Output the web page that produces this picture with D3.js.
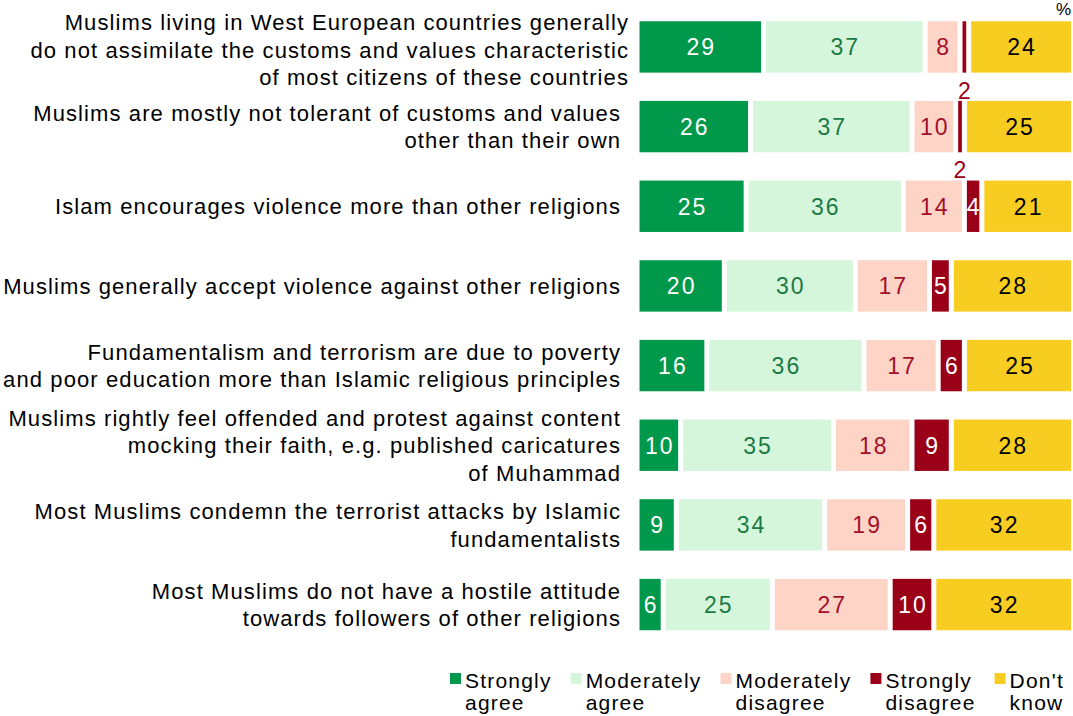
<!DOCTYPE html>
<html lang="en">
<head>
  <meta charset="UTF-8">
  <title>Attitudes towards Muslims</title>
  <script src="https://d3js.org/d3.v7.min.js"></script>
  <style type="text/css">
    body { margin: 0; background: #fff; }
    text { font-family: "Liberation Sans", Arial, sans-serif; }
  </style>
</head>
<body>
<script type="text/javascript">
  var statements = [
    ["Muslims living in West European countries generally", "do not assimilate the customs and values characteristic", "of most citizens of these countries"],
    ["Muslims are mostly not tolerant of customs and values", "other than their own"],
    ["Islam encourages violence more than other religions"],
    ["Muslims generally accept violence against other religions"],
    ["Fundamentalism and terrorism are due to poverty", "and poor education more than Islamic religious principles"],
    ["Muslims rightly feel offended and protest against content", "mocking their faith, e.g. published caricatures", "of Muhammad"],
    ["Most Muslims condemn the terrorist attacks by Islamic", "fundamentalists"],
    ["Most Muslims do not have a hostile attitude", "towards followers of other religions"]
  ];
  var answers = ["Strongly agree", "Moderately agree", "Moderately disagree", "Strongly disagree", "Don't know"];
  var legendLines = [["Strongly", "agree"], ["Moderately", "agree"], ["Moderately", "disagree"], ["Strongly", "disagree"], ["Don't", "know"]];
  var stronglyAgree     = [29, 26, 25, 20, 16, 10,  9,  6];
  var moderatelyAgree   = [37, 37, 36, 30, 36, 35, 34, 25];
  var moderatelyDisagree= [ 8, 10, 14, 17, 17, 18, 19, 27];
  var stronglyDisagree  = [ 2,  2,  4,  5,  6,  9,  6, 10];
  var dontKnow          = [24, 25, 21, 28, 25, 28, 32, 32];

  var fills = ["#00984A", "#D5F6DB", "#FED4C6", "#9A0018", "#F8CD21"];
  var textColors = ["#ffffff", "#1B7A45", "#A3102A", "#ffffff", "#000000"];

  var width = 1073, height = 716;
  var svg = d3.select("body").append("svg")
    .attr("width", width)
    .attr("height", height);

  var series = [stronglyAgree, moderatelyAgree, moderatelyDisagree, stronglyDisagree, dontKnow];
  var rows = statements.map(function(s, i) {
    var row = { label: s, segs: [] };
    var cum = 0;
    series.forEach(function(arr, k) {
      row.segs.push({ k: k, v: arr[i], x0: cum, x1: cum + arr[i] });
      cum += arr[i];
    });
    return row;
  });

  var x = d3.scaleLinear().domain([0, 100]).range([637, 1073.5]);
  var y = d3.scaleBand().domain(d3.range(statements.length)).range([8.5, 643]).paddingInner(0.355).paddingOuter(0.16);

  var gap = 2.5;
  var valSpacing = 2;

  var rowG = svg.selectAll("g.row")
    .data(rows)
    .enter().append("g")
    .attr("class", "row")
    .attr("transform", function(d, i) { return "translate(0," + y(i) + ")"; });

  rowG.selectAll("rect")
    .data(function(d) { return d.segs; })
    .enter().append("rect")
    .attr("x", function(d) { return x(d.x0) + gap; })
    .attr("width", function(d) { return Math.max(0, x(d.x1) - x(d.x0) - 2 * gap); })
    .attr("y", 0)
    .attr("height", y.bandwidth())
    .attr("fill", function(d) { return fills[d.k]; });

  rowG.selectAll("text.val")
    .data(function(d) { return d.segs; })
    .enter().append("text")
    .attr("class", "val")
    .attr("x", function(d) { return (x(d.x0) + x(d.x1)) / 2 + valSpacing / 2; })
    .attr("y", function(d) { return d.v <= 2 ? y.bandwidth() + 26 : y.bandwidth() / 2 + 8.5; })
    .attr("text-anchor", "middle")
    .style("font-size", "23px")
    .style("letter-spacing", valSpacing + "px")
    .attr("fill", function(d) { return d.v <= 2 ? "#9A0018" : textColors[d.k]; })
    .text(function(d) { return d.v; });

  // statement labels
  rowG.each(function(d, i) {
    var n = d.label.length;
    var lh = 27.5;
    var t = d3.select(this).append("text")
      .attr("text-anchor", "end")
      .style("font-size", "22px")
      .style("letter-spacing", "1.1px")
      .attr("fill", "#000");
    d.label.forEach(function(line, j) {
      t.append("tspan")
        .attr("x", i === 0 ? 629 : 621)
        .attr("y", y.bandwidth() / 2 + 8 + (n === 3 && i === 0 ? 3 : 0) + (j - (n - 1) / 2) * lh)
        .text(line);
    });
  });

  svg.append("text")
    .attr("x", 1071)
    .attr("y", 15)
    .attr("text-anchor", "end")
    .style("font-size", "17px")
    .text("%");

  // legend
  var legend = svg.append("g").attr("transform", "translate(450,0)");
  var lx = 0;
  answers.forEach(function(a, k) {
    var g = legend.append("g").attr("transform", "translate(" + lx + ",0)");
    g.append("rect")
      .attr("x", 0).attr("y", 673)
      .attr("width", 11).attr("height", 11)
      .attr("fill", fills[k]);
    var t = g.append("text")
      .style("font-size", "21px")
      .style("letter-spacing", "1.2px")
      .attr("fill", "#000");
    legendLines[k].forEach(function(line, j) {
      t.append("tspan").attr("x", 15).attr("y", 688 + j * 22).text(line);
    });
    lx += 15 + t.node().getBBox().width + 19;
  });
</script>
</body>
</html>
